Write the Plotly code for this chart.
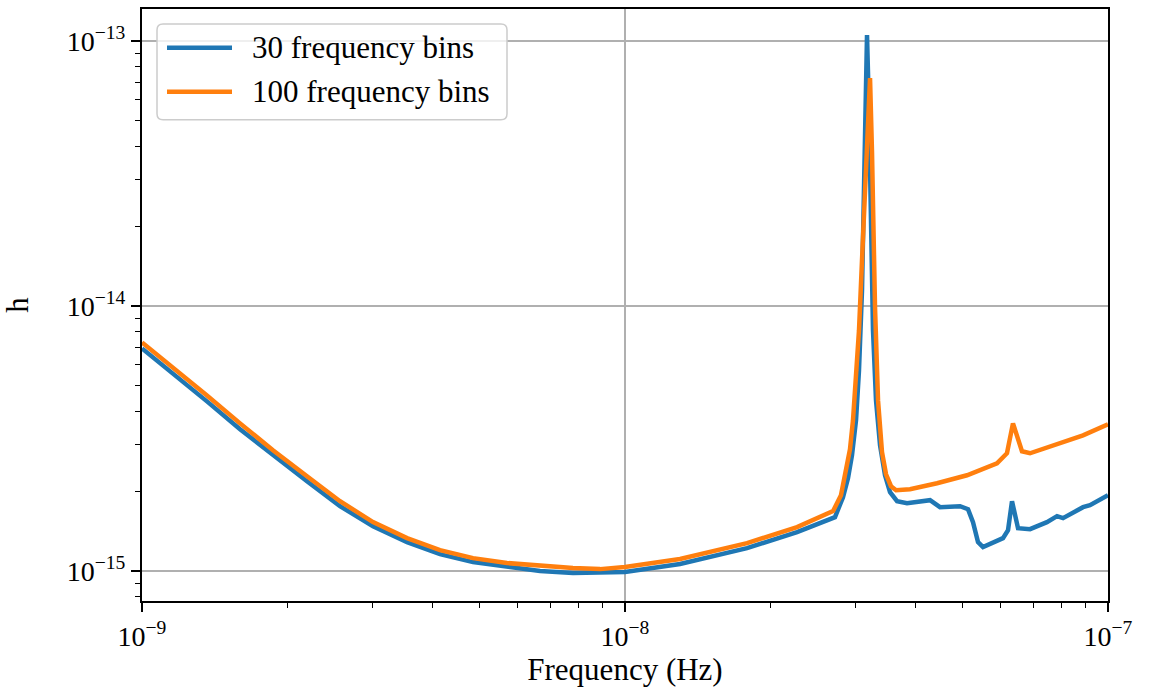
import plotly.graph_objects as go

# Strain sensitivity curves for two frequency binnings
freq_30 = [
    1.000e-9, 1.159e-9, 1.363e-9, 1.596e-9, 1.867e-9, 2.196e-9, 2.570e-9, 3.008e-9,
    3.538e-9, 4.140e-9, 4.846e-9, 5.697e-9, 6.670e-9, 7.803e-9, 8.878e-9, 1.000e-8,
    1.300e-8, 1.789e-8, 2.271e-8, 2.721e-8, 2.827e-8, 2.895e-8, 2.951e-8, 3.008e-8,
    3.051e-8, 3.095e-8, 3.124e-8, 3.155e-8, 3.170e-8, 3.200e-8, 3.231e-8, 3.262e-8,
    3.309e-8, 3.373e-8, 3.454e-8, 3.538e-8, 3.658e-8, 3.836e-8, 4.281e-8, 4.489e-8,
    4.939e-8, 5.130e-8, 5.254e-8, 5.381e-8, 5.511e-8, 6.062e-8, 6.209e-8, 6.328e-8,
    6.512e-8, 6.895e-8, 7.475e-8, 7.843e-8, 8.070e-8, 8.878e-8, 9.177e-8, 1.000e-7,
]
h_30 = [
    6.918e-15, 5.569e-15, 4.368e-15, 3.426e-15, 2.735e-15, 2.183e-15, 1.757e-15, 1.477e-15,
    1.286e-15, 1.159e-15, 1.081e-15, 1.035e-15, 1.000e-15, 0.983e-15, 0.983e-15, 0.991e-15,
    1.063e-15, 1.221e-15, 1.403e-15, 1.597e-15, 1.900e-15, 2.240e-15, 2.735e-15, 3.705e-15,
    5.715e-15, 1.144e-14, 2.723e-14, 6.481e-14, 1.053e-13, 5.450e-14, 2.099e-14, 8.087e-15,
    4.406e-15, 2.982e-15, 2.299e-15, 1.984e-15, 1.835e-15, 1.804e-15, 1.851e-15, 1.742e-15,
    1.757e-15, 1.712e-15, 1.530e-15, 1.286e-15, 1.231e-15, 1.331e-15, 1.427e-15, 1.835e-15,
    1.452e-15, 1.439e-15, 1.530e-15, 1.611e-15, 1.584e-15, 1.742e-15, 1.772e-15, 1.933e-15,
]

freq_100 = [
    1.000e-9, 1.159e-9, 1.363e-9, 1.596e-9, 1.867e-9, 2.196e-9, 2.570e-9, 3.008e-9,
    3.538e-9, 4.140e-9, 4.846e-9, 5.697e-9, 6.670e-9, 7.803e-9, 8.878e-9, 1.000e-8,
    1.300e-8, 1.789e-8, 2.271e-8, 2.696e-8, 2.800e-8, 2.868e-8, 2.923e-8, 2.965e-8,
    3.008e-8, 3.051e-8, 3.095e-8, 3.140e-8, 3.185e-8, 3.216e-8, 3.246e-8, 3.293e-8,
    3.341e-8, 3.405e-8, 3.471e-8, 3.554e-8, 3.641e-8, 3.891e-8, 4.426e-8, 5.106e-8,
    5.891e-8, 6.178e-8, 6.357e-8, 6.636e-8, 6.895e-8, 7.954e-8, 8.878e-8, 1.000e-7,
]
h_100 = [
    7.289e-15, 5.867e-15, 4.600e-15, 3.609e-15, 2.856e-15, 2.279e-15, 1.835e-15, 1.530e-15,
    1.331e-15, 1.200e-15, 1.119e-15, 1.072e-15, 1.044e-15, 1.026e-15, 1.017e-15, 1.035e-15,
    1.110e-15, 1.275e-15, 1.465e-15, 1.683e-15, 1.933e-15, 2.360e-15, 2.881e-15, 3.705e-15,
    5.241e-15, 8.087e-15, 1.484e-14, 2.795e-14, 5.790e-14, 7.254e-14, 3.852e-14, 9.957e-15,
    4.406e-15, 2.807e-15, 2.319e-15, 2.090e-15, 2.019e-15, 2.036e-15, 2.145e-15, 2.299e-15,
    2.551e-15, 2.783e-15, 3.609e-15, 2.831e-15, 2.783e-15, 3.035e-15, 3.252e-15, 3.579e-15,
]

series_names = ["30 frequency bins", "100 frequency bins"]

x_tick_vals = [1e-9, 1e-8, 1e-7]
x_tick_text = ["10<sup>−9</sup>", "10<sup>−8</sup>", "10<sup>−7</sup>"]
y_tick_vals = [1e-15, 1e-14, 1e-13]
y_tick_text = ["10<sup>−15</sup>", "10<sup>−14</sup>", "10<sup>−13</sup>"]

BLUE = "#1f77b4"
ORANGE = "#ff7f0e"
FONT = "Liberation Serif"
LINE_W = 4.5

fig = go.Figure()
fig.add_trace(go.Scatter(x=freq_30, y=h_30, mode="lines", name=series_names[0],
                         line=dict(color=BLUE, width=LINE_W), showlegend=False))
fig.add_trace(go.Scatter(x=freq_100, y=h_100, mode="lines", name=series_names[1],
                         line=dict(color=ORANGE, width=LINE_W), showlegend=False))

axis_common = dict(
    showline=True, linecolor="black", linewidth=2, mirror=True,
    ticks="outside", ticklen=9, tickwidth=1.6, tickcolor="black",
    showgrid=True, gridcolor="#b0b0b0", gridwidth=1.8,
    zeroline=False,
    tickfont=dict(family=FONT, size=28, color="black"),
    minor=dict(ticks="outside", ticklen=5, tickwidth=1.2, tickcolor="black",
               dtick="D1", showgrid=False),
)

# Legend box (rounded, semi-transparent) in paper coordinates
PW, PH = 966.0, 594.0
bx0, bx1 = 15 / PW, 365 / PW
by0, by1 = 483 / PH, 579 / PH
rx, ry = 6 / PW, 6 / PH
box_path = (
    f"M {bx0 + rx},{by1} L {bx1 - rx},{by1} Q {bx1},{by1} {bx1},{by1 - ry} "
    f"L {bx1},{by0 + ry} Q {bx1},{by0} {bx1 - rx},{by0} "
    f"L {bx0 + rx},{by0} Q {bx0},{by0} {bx0},{by0 + ry} "
    f"L {bx0},{by1 - ry} Q {bx0},{by1} {bx0 + rx},{by1} Z"
)
shapes = [dict(type="path", path=box_path, xref="paper", yref="paper", layer="above",
               fillcolor="rgba(255,255,255,0.8)", line=dict(color="#cccccc", width=1.5))]
annotations = []
for i, (name, color) in enumerate(zip(series_names, [BLUE, ORANGE])):
    yy = (555 - 44 * i) / PH
    shapes.append(dict(type="line", xref="paper", yref="paper", layer="above",
                       x0=25 / PW, x1=90 / PW, y0=yy, y1=yy,
                       line=dict(color=color, width=LINE_W)))
    annotations.append(dict(text=name, xref="paper", yref="paper", x=108 / PW, y=yy,
                            xanchor="left", yanchor="middle", showarrow=False,
                            font=dict(family=FONT, size=31, color="black")))

fig.update_layout(
    width=1149, height=693,
    margin=dict(l=142, r=41, t=7, b=92),
    paper_bgcolor="white", plot_bgcolor="white",
    font=dict(family=FONT, size=31, color="black"),
    xaxis=dict(type="log", range=[-9, -7], tickvals=x_tick_vals, ticktext=x_tick_text,
               title=dict(text="Frequency (Hz)", standoff=8,
                          font=dict(family=FONT, size=31)),
               **axis_common),
    yaxis=dict(type="log", range=[-15.113, -12.879], tickvals=y_tick_vals, ticktext=y_tick_text,
               title=dict(text="h", standoff=30, font=dict(family=FONT, size=31)),
               **axis_common),
    shapes=shapes,
    annotations=annotations,
    showlegend=False,
)

fig.write_html("out.html")
